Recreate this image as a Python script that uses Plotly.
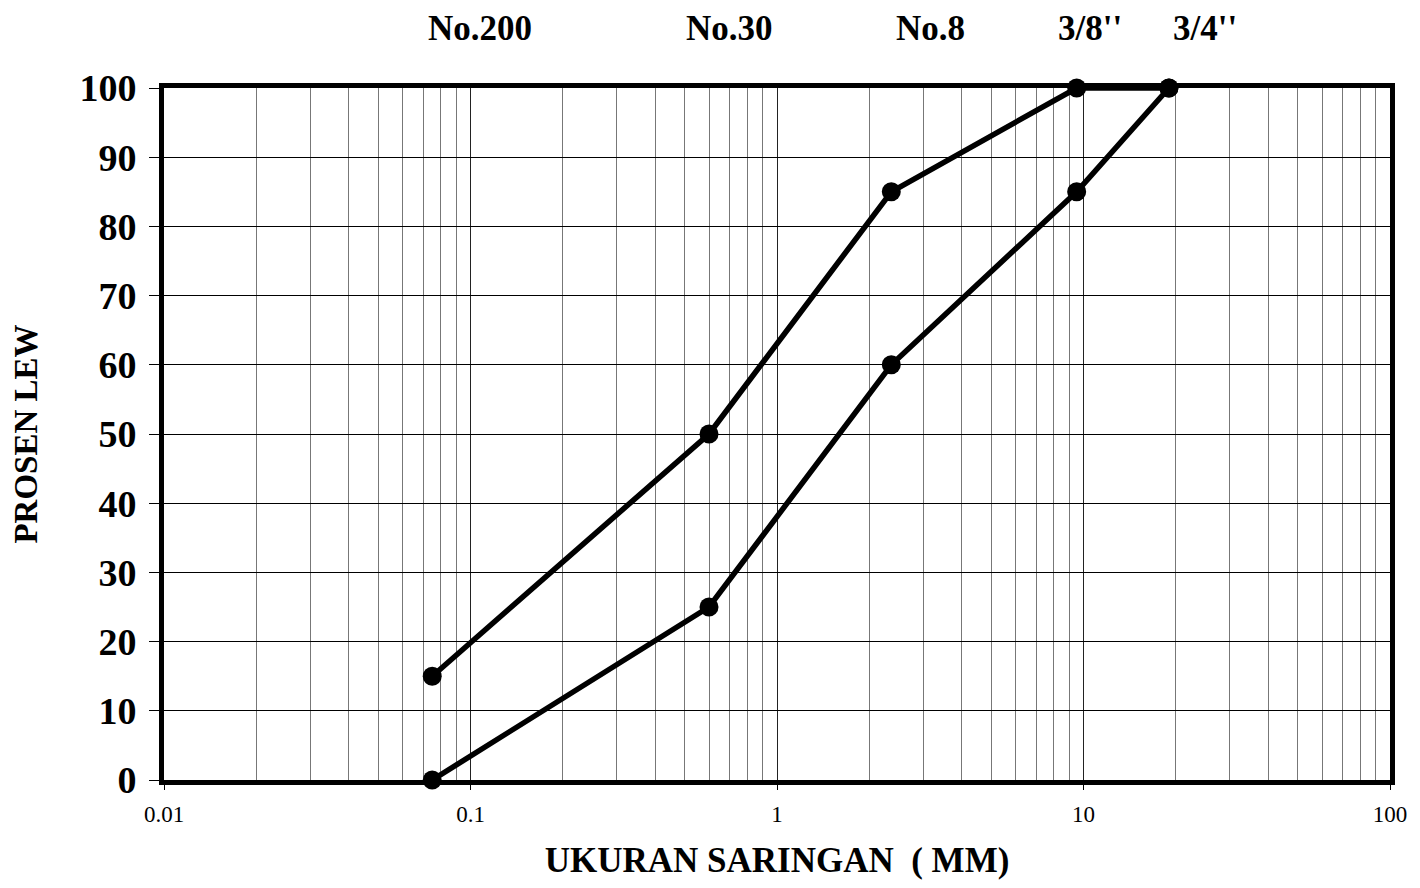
import plotly.graph_objects as go

sieve_mm = [0.075, 0.6, 2.36, 9.5, 19.0]
upper_pass = [15, 50, 85, 100, 100]
lower_pass = [0, 25, 60, 85, 100]
top_labels = ["No.200", "No.30", "No.8", "3/8''", "3/4''"]
top_label_pos = [0.258, 0.461, 0.625, 0.755, 0.849]
x_ticks = [0.01, 0.1, 1, 10, 100]
x_ticktext = ["0.01", "0.1", "1", "10", "100"]
y_ticks = list(range(0, 101, 10))

SERIF = "Liberation Serif"

fig = go.Figure()
for ys in (upper_pass, lower_pass):
    fig.add_trace(go.Scatter(
        x=sieve_mm, y=ys, mode="lines+markers",
        line=dict(color="black", width=5.5),
        marker=dict(color="black", size=19),
        cliponaxis=False, showlegend=False))

for t, xp in zip(top_labels, top_label_pos):
    fig.add_annotation(x=xp, y=1.086, xref="paper", yref="paper",
                       text=f"<b>{t}</b>", showarrow=False,
                       xanchor="center", yanchor="middle",
                       font=dict(family=SERIF, size=35, color="black"))

fig.update_layout(
    width=1404, height=872,
    margin=dict(l=156, r=22, t=80, b=100),
    paper_bgcolor="white", plot_bgcolor="white",
    font=dict(family=SERIF, color="black"),
)
fig.update_xaxes(
    type="log", range=[-2, 2], automargin=False,
    tickvals=x_ticks, ticktext=x_ticktext,
    tickfont=dict(size=23, family=SERIF),
    ticks="outside", ticklen=5, tickcolor="black", ticklabelstandoff=4,
    showline=True, linewidth=5, linecolor="black", mirror=True,
    showgrid=True, gridcolor="#222", gridwidth=1,
    minor=dict(dtick="D1", showgrid=True, gridcolor="#777", gridwidth=1, ticks=""),
    zeroline=False,
    title=dict(text="<b>UKURAN SARINGAN  ( MM)</b>",
               font=dict(size=35, family=SERIF), standoff=44),
)
fig.update_yaxes(
    range=[0, 100], tickvals=y_ticks, automargin=False,
    ticktext=[f"<b>{v}</b>" for v in y_ticks],
    tickfont=dict(size=38, family=SERIF),
    ticks="outside", ticklen=10, tickcolor="black", ticklabelstandoff=5,
    showline=True, linewidth=5, linecolor="black", mirror=True,
    showgrid=True, gridcolor="black", gridwidth=1,
    zeroline=False,
    title=dict(text="<b>PROSEN LEW</b>",
               font=dict(size=33, family=SERIF), standoff=48),
)

fig.write_html("out.html")
